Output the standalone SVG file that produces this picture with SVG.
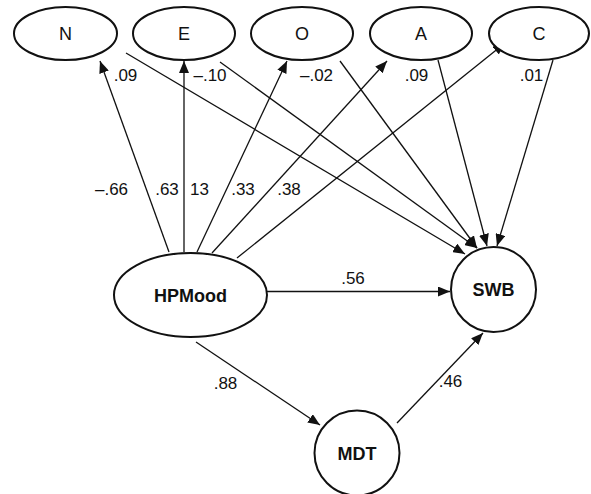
<svg xmlns="http://www.w3.org/2000/svg" width="591" height="494" viewBox="0 0 591 494">
<defs>
<marker id="arr" viewBox="0 0 12 10" refX="12" refY="5" markerWidth="12" markerHeight="10" markerUnits="userSpaceOnUse" orient="auto">
<path d="M0,0 L12,5 L0,10 z" fill="#111"/>
</marker>
<style>
.node{fill:#fff;stroke:#111;stroke-width:2}
.lbl{font-family:"Liberation Sans",Arial,sans-serif;font-size:18px;fill:#111;text-anchor:middle}
.b{font-weight:bold}
.num{font-family:"Liberation Sans",Arial,sans-serif;font-size:17px;fill:#111;text-anchor:middle}
.edge{stroke:#111;stroke-width:1.3;fill:none}
.ah{marker-end:url(#arr)}
</style>
</defs>
<rect width="591" height="494" fill="#fff"/>
<g id="connectors">
<line class="edge ah" x1="169" y1="252" x2="100" y2="61"/>
<line class="edge ah" x1="184" y1="252" x2="184" y2="61"/>
<line class="edge ah" x1="197" y1="252" x2="287" y2="61"/>
<line class="edge ah" x1="212" y1="253" x2="387" y2="61"/>
<line class="edge ah" x1="237" y1="258" x2="505" y2="43"/>
<line class="edge ah" x1="126" y1="53" x2="465" y2="254"/>
<line class="edge ah" x1="220" y1="62" x2="477" y2="248"/>
<line class="edge ah" x1="340" y1="61" x2="477" y2="248"/>
<line class="edge ah" x1="438" y1="60" x2="487" y2="246"/>
<line class="edge ah" x1="553" y1="60" x2="497" y2="246"/>
<line class="edge ah" x1="265" y1="291.5" x2="450" y2="291.5"/>
<line class="edge ah" x1="196" y1="342" x2="320" y2="425"/>
<line class="edge ah" x1="397" y1="423" x2="483" y2="333"/>
<text class="num" x="125.5" y="81">.09</text>
<text class="num" x="210" y="81">–.10</text>
<text class="num" x="316.5" y="81">–.02</text>
<text class="num" x="416.5" y="81">.09</text>
<text class="num" x="531.5" y="81">.01</text>
<text class="num" x="111.5" y="195">–.66</text>
<text class="num" x="167" y="195">.63</text>
<text class="num" x="199.5" y="195">13</text>
<text class="num" x="243" y="195">.33</text>
<text class="num" x="289" y="195">.38</text>
<text class="num" x="353" y="284">.56</text>
<text class="num" x="225.5" y="389">.88</text>
<text class="num" x="450.5" y="387">.46</text>
</g>
<g id="N"><ellipse class="node" cx="65.5" cy="33.5" rx="51.5" ry="26.5"/><text class="lbl" x="65.5" y="40">N</text></g>
<g id="E"><ellipse class="node" cx="184" cy="33.5" rx="51" ry="26.5"/><text class="lbl" x="184" y="40">E</text></g>
<g id="O"><ellipse class="node" cx="302" cy="33.5" rx="51" ry="26.5"/><text class="lbl" x="302" y="40">O</text></g>
<g id="A"><ellipse class="node" cx="421" cy="33.5" rx="51" ry="26.5"/><text class="lbl" x="421" y="40">A</text></g>
<g id="C"><ellipse class="node" cx="539" cy="33.5" rx="50" ry="26.5"/><text class="lbl" x="539" y="40">C</text></g>
<g id="HPMood"><ellipse class="node" cx="190.5" cy="295" rx="76.5" ry="42"/><text class="lbl b" x="190.5" y="301.5">HPMood</text></g>
<g id="SWB"><circle class="node" cx="493.5" cy="289.5" r="42.5"/><text class="lbl b" x="493.5" y="296">SWB</text></g>
<g id="MDT"><circle class="node" cx="357" cy="453" r="42.5"/><text class="lbl b" x="357" y="459.5">MDT</text></g>
</svg>
